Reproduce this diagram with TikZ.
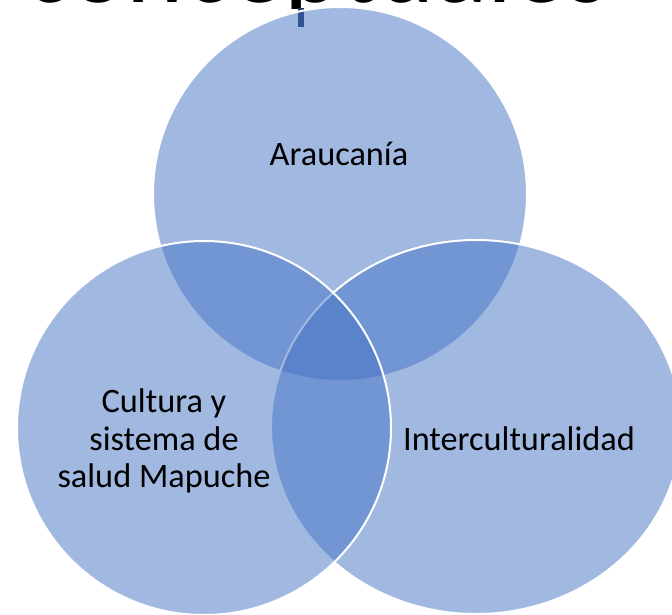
\documentclass[tikz,border=0pt]{standalone}
\usepackage{fontspec}
\setmainfont{Carlito}
\definecolor{venn}{HTML}{4472C4}
\definecolor{cursorblue}{HTML}{1F3864}
\begin{document}
\begin{tikzpicture}[x=1pt,y=-1pt,
  vset/.style={fill=venn, fill opacity=0.5, draw=white, draw opacity=1, line width=2pt},
  lbl/.style={font=\fontsize{34.3}{37.5}\selectfont, align=center, text=black, inner sep=0pt}]
\useasboundingbox (0,0) rectangle (672,615);
\clip (0,0) rectangle (672,615);
\begin{scope}
\clip (0,0) rectangle (672,9);
\node[anchor=base west, inner sep=0pt, font=\fontsize{109}{120}\selectfont] (title) at (24,3) {conceptuales};
\end{scope}
\fill[cursorblue] (298,8) rectangle (304,27);
\draw[vset] (340,194) circle[radius=187pt];
\draw[vset] (476,427) ellipse[x radius=205pt, y radius=187pt];
\draw[vset] (204,428) circle[radius=187pt];
\node[lbl, anchor=base] (arau) at (339,165) {Araucanía};
\node[lbl, anchor=base] (inter) at (519,450) {Interculturalidad};
\node[lbl] (cult) at (164,441) {Cultura y\\sistema de\\salud Mapuche};
\end{tikzpicture}
\end{document}
